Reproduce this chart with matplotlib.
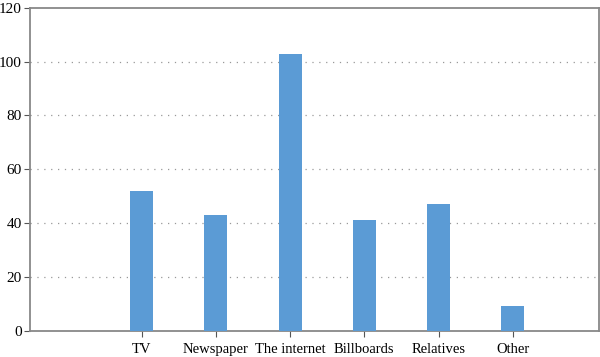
import matplotlib
matplotlib.use("Agg")
import matplotlib.pyplot as plt

categories = ["TV", "Newspaper", "The internet", "Billboards", "Relatives", "Other"]
values = [52, 43, 103, 41, 47, 9]
yticks = [0, 20, 40, 60, 80, 100, 120]

plt.rcParams['font.family'] = ['Liberation Serif', 'DejaVu Serif']

fig = plt.figure(figsize=(6.0, 3.57), dpi=100)
ax = fig.add_axes([0.05, 0.074, 0.948, 0.904])

pos = list(range(1, len(categories) + 1))
ax.bar(pos, values, width=0.31, color="#5B9BD5", zorder=3)

ax.set_xlim(-0.505, 7.16)
ax.set_ylim(0, 120)
ax.set_yticks(yticks)
ax.set_xticks(pos)
ax.set_xticklabels(categories)

for y in yticks[1:-1]:
    ax.axhline(y, color="#999999", linestyle=(0, (1, 4.5)), linewidth=0.9, zorder=1)

for s in ax.spines.values():
    s.set_color("#888888")
    s.set_linewidth(1.3)

ax.tick_params(axis='x', length=4, width=0.8, color="#555555", labelsize=10.5, pad=5)
ax.tick_params(axis='y', length=4, width=0.8, color="#555555", labelsize=11, pad=2)

fig.savefig("out.png", dpi=100)
